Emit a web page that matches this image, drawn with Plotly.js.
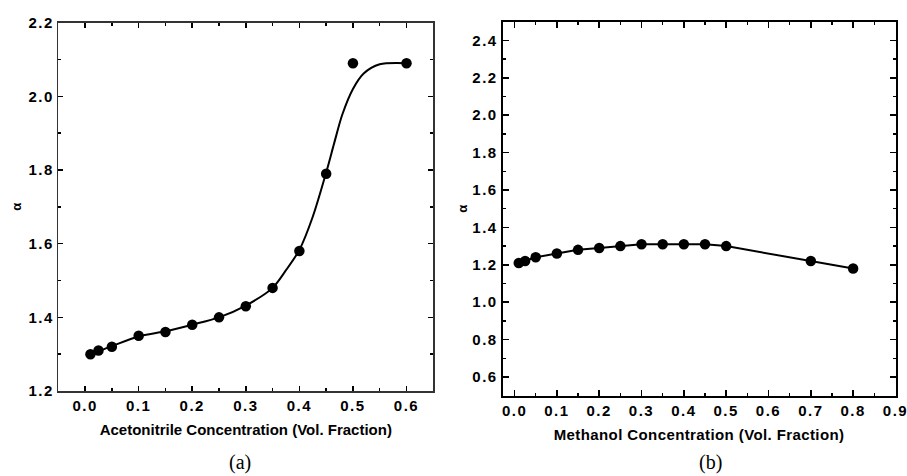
<!DOCTYPE html>
<html>
<head>
<meta charset="utf-8">
<script src="https://cdn.plot.ly/plotly-3.0.1.min.js"></script>
<style>
html,body{margin:0;padding:0;background:#fff;}
#chart{width:907px;height:476px;}
#chart .xtick text, #chart .ytick text, #chart .x2tick text, #chart .y2tick text{letter-spacing:1.5px;}
#chart .g-x2title text{letter-spacing:0.4px;}
</style>
</head>
<body>
<div id="chart"></div>
<script>
// Panel (a): acetonitrile
const acnX = [0.01, 0.025, 0.05, 0.1, 0.15, 0.2, 0.25, 0.3, 0.35, 0.4, 0.45, 0.5, 0.6];
const acnAlpha = [1.30, 1.31, 1.32, 1.35, 1.36, 1.38, 1.40, 1.43, 1.48, 1.58, 1.79, 2.09, 2.09];
// fitted curve in panel (a)
const acnFitX = [0.01, 0.05, 0.1, 0.15, 0.2, 0.25, 0.3, 0.35, 0.375, 0.4, 0.425, 0.45, 0.465, 0.48, 0.5, 0.52, 0.55, 0.6];
const acnFitY = [1.30, 1.322, 1.348, 1.362, 1.38, 1.40, 1.432, 1.48, 1.528, 1.583, 1.673, 1.793, 1.873, 1.95, 2.02, 2.062, 2.087, 2.09];
// Panel (b): methanol
const meohX = [0.01, 0.025, 0.05, 0.1, 0.15, 0.2, 0.25, 0.3, 0.35, 0.4, 0.45, 0.5, 0.7, 0.8];
const meohAlpha = [1.21, 1.22, 1.24, 1.26, 1.28, 1.29, 1.30, 1.31, 1.31, 1.31, 1.31, 1.30, 1.22, 1.18];

const xTitleA = 'Acetonitrile Concentration (Vol. Fraction)';
const xTitleB = 'Methanol Concentration (Vol. Fraction)';
const yTitle = 'α';
const panelLabels = ['(a)', '(b)'];

const W = 907, H = 476;
const FAM = 'Arial, "Liberation Sans", sans-serif';

const traces = [
  {x: acnFitX, y: acnFitY, xaxis: 'x', yaxis: 'y', mode: 'lines', line: {color: '#000', width: 2, shape: 'spline', smoothing: 0.8}, hoverinfo: 'skip'},
  {x: acnX, y: acnAlpha, xaxis: 'x', yaxis: 'y', mode: 'markers', marker: {color: '#000', size: 10.5, symbol: 'circle'}},
  {x: meohX, y: meohAlpha, xaxis: 'x2', yaxis: 'y2', mode: 'lines+markers', line: {color: '#000', width: 2}, marker: {color: '#000', size: 10.5, symbol: 'circle'}}
];

function ax(opts) {
  return Object.assign({
    showgrid: false, zeroline: false, showline: true, mirror: 'ticks',
    ticks: 'inside', tickcolor: '#000', tickwidth: 1.5,
    tickfont: {family: FAM, size: 15, color: '#000', weight: 'bold'},
    tickformat: '.1f', fixedrange: true,
    ticklabeloverflow: 'allow'
  }, opts);
}

function tfont(sz) { return {family: FAM, size: sz, color: '#000', weight: 'bold'}; }

const layout = {
  width: W, height: H,
  margin: {l: 0, r: 0, t: 0, b: 0},
  font: {family: FAM, size: 15, color: '#000', weight: 'bold'},
  paper_bgcolor: '#fff', plot_bgcolor: '#fff',
  showlegend: false,
  xaxis: ax({domain: [58.3/W, 433.3/W], range: [-0.05, 0.65], tick0: 0, dtick: 0.1, ticklen: 5,
    linecolor: '#333', linewidth: 1.5, anchor: 'y',
    minor: {ticks: 'inside', ticklen: 3, dtick: 0.05, tick0: 0, tickcolor: '#000'},
    title: {text: xTitleA, font: tfont(15), standoff: 12}}),
  yaxis: ax({domain: [1 - 391/H, 1 - 22.7/H], range: [1.2, 2.2], tick0: 1.2, dtick: 0.2, ticklen: 5,
    linecolor: '#333', linewidth: 1.5, anchor: 'x',
    minor: {ticks: 'inside', ticklen: 3, dtick: 0.1, tick0: 1.2, tickcolor: '#000'},
    title: {text: yTitle, font: tfont(13), standoff: 8}}),
  xaxis2: ax({domain: [502.7/W, 895.5/W], range: [-0.028, 0.9001], tick0: 0, dtick: 0.1, ticklen: 6,
    linecolor: '#000', linewidth: 2, anchor: 'y2',
    minor: {ticks: 'inside', ticklen: 3, dtick: 0.05, tick0: 0, tickcolor: '#000'},
    title: {text: xTitleB, font: tfont(15), standoff: 12}}),
  yaxis2: ax({domain: [1 - 395.7/H, 1 - 21.7/H], range: [0.5, 2.5], tick0: 0.6, dtick: 0.2, ticklen: 6,
    linecolor: '#000', linewidth: 2, anchor: 'x2',
    minor: {ticks: 'inside', ticklen: 3, dtick: 0.1, tick0: 0.5, tickcolor: '#000'},
    title: {text: yTitle, font: tfont(13), standoff: 6}}),
  annotations: [
    {text: panelLabels[0], xref: 'paper', yref: 'paper', x: 240/W, y: 1 - 462/H, xanchor: 'center', yanchor: 'middle', showarrow: false,
     font: {family: '"Liberation Serif", "Times New Roman", serif', size: 20, color: '#000', weight: 'normal'}},
    {text: panelLabels[1], xref: 'paper', yref: 'paper', x: 710/W, y: 1 - 462/H, xanchor: 'center', yanchor: 'middle', showarrow: false,
     font: {family: '"Liberation Serif", "Times New Roman", serif', size: 20, color: '#000', weight: 'normal'}}
  ]
};

Plotly.newPlot('chart', traces, layout, {displayModeBar: false, staticPlot: true});
</script>
</body>
</html>
